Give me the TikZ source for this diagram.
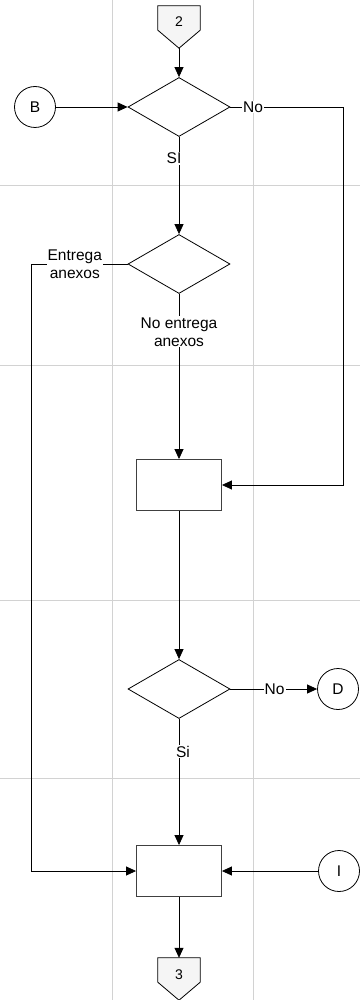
\documentclass[tikz,border=0pt]{standalone}
\usepackage{fontspec}
\setmainfont{Liberation Sans}
\usetikzlibrary{shapes.geometric,arrows.meta}
\tikzset{
  decision/.style={diamond,draw,line width=0.8pt,minimum width=102pt,minimum height=59pt,inner sep=0pt},
  process/.style={rectangle,draw=black!75,line width=0.9pt,minimum width=85pt,minimum height=51pt,inner sep=0pt},
  connector/.style={circle,draw,line width=0.8pt,minimum size=41pt,inner sep=0pt,font=\fontsize{15.5}{18}\selectfont},
  offpage/.style={rectangle,minimum width=42pt,minimum height=24pt,inner sep=0pt},
  offtext/.style={inner sep=0pt,font=\fontsize{14}{16}\selectfont},
  flow/.style={line width=0.8pt,-{Triangle[length=10pt,width=9pt]}},
  lbl/.style={fill=white,inner sep=1pt,align=center,font=\fontsize{15.5}{18}\selectfont},
  lane/.style={gray!35,line width=1pt}
}
\begin{document}
\begin{tikzpicture}[x=1pt,y=-1pt]
\useasboundingbox (0,0) rectangle (360,1000);
% carriles
\foreach \xl in {112,253} \draw[lane] (\xl,0) -- (\xl,1000);
\foreach \yl in {186,365,600,778} \draw[lane] (0,\yl) -- (360,\yl);
% conector de entrada
\node[offpage] (c2) at (179,18) {};
\draw[line width=0.8pt,fill=gray!8] (c2.north west) -- (c2.north east) -- (c2.south east) -- ([yshift=-18pt]c2.south) -- (c2.south west) -- cycle;
\coordinate (c2tip) at ([yshift=-18pt]c2.south);
\node[offtext] (c2t) at ([yshift=-4pt]c2.center) {2};
% figuras
\node[decision] (d1) at (179,107) {};
\node[connector] (B) at (35,107) {B};
\node[decision] (d2) at (179,264) {};
\node[process] (r1) at (179,485) {};
\node[decision] (d3) at (179,689) {};
\node[connector] (D) at (338,689) {D};
\node[process] (r2) at (179,871) {};
\node[connector] (I) at (339,871) {I};
% conector de salida
\node[offpage] (c3) at (179,970) {};
\draw[line width=0.8pt,fill=gray!8] (c3.north west) -- (c3.north east) -- (c3.south east) -- ([yshift=-18pt]c3.south) -- (c3.south west) -- cycle;
\node[offtext] (c3t) at ([yshift=-5pt]c3.center) {3};
% flechas
\draw[flow] (c2tip) -- (d1.north);
\draw[flow] (B) -- (d1.west);
\draw[flow] (d1.east) -- node[lbl,pos=0.2]{No} ++(113,0) |- (r1.east);
\draw[flow] (d1.south) -- node[lbl,pos=0.22,xshift=-5pt]{SI} (d2.north);
\draw[flow] (d2.west) -- node[lbl,pos=0.55]{Entrega\\anexos} ++(-96,0) |- (r2.west);
\draw[flow] (d2.south) -- node[lbl,pos=0.23]{No entrega\\anexos} (r1.north);
\draw[flow] (r1.south) -- (d3.north);
\draw[flow] (d3.east) -- node[lbl,pos=0.51]{No} (D.west);
\draw[flow] (d3.south) -- node[lbl,pos=0.26,xshift=4pt]{Si} (r2.north);
\draw[flow] (I.west) -- (r2.east);
\draw[flow] (r2.south) -- (c3.north);
\end{tikzpicture}
\end{document}
